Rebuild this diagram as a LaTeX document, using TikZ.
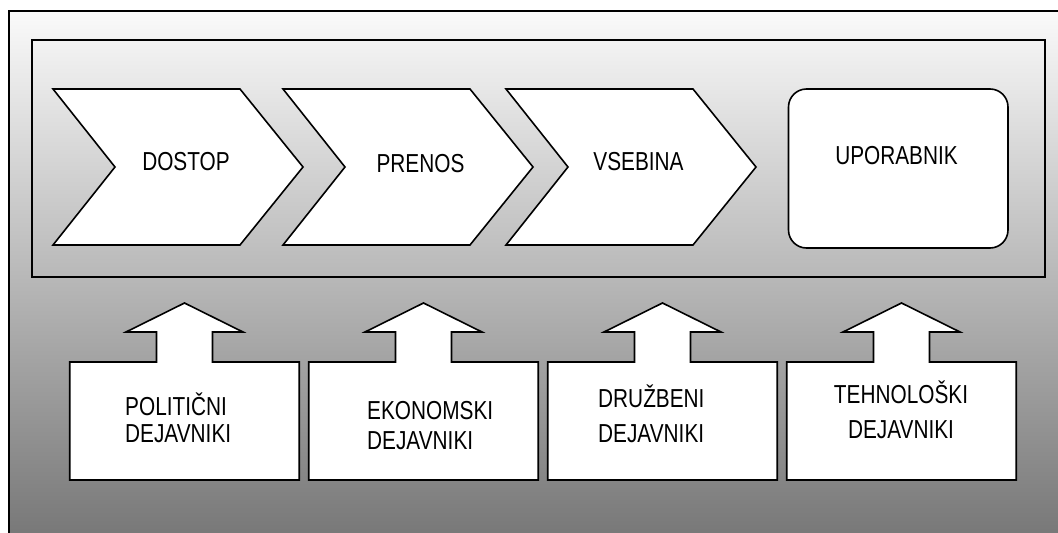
\documentclass[tikz,border=0pt]{standalone}
\usepackage{fontspec}
\setmainfont{Liberation Sans}[FakeStretch=0.8]
\begin{document}
\begin{tikzpicture}[x=1pt,y=-1pt,
  frame/.style={draw=black,line width=2pt},
  blockshape/.style={draw=black,fill=white,line width=1.6pt,line join=miter},
  lbl/.style={inner sep=0pt,font=\fontsize{26}{30}\selectfont},
  factor/.style={inner sep=0pt,align=left,anchor=west}]
\useasboundingbox (0,0) rectangle (1058,533);
% background gradient and frames
\shade[top color=black!2,bottom color=black!54] (9,11) rectangle (1070,545);
\draw[frame] (9,11) rectangle (1070,545);
\draw[frame] (32,40) rectangle (1045,277);
% chevrons
\foreach \L in {53,283,506}{
  \draw[blockshape,shift={(\L,0)}] (0,89) -- (187,89) -- (250,167) -- (187,245) -- (0,245) -- (62,167) -- cycle;
}
\draw[blockshape,rounded corners=18pt] (788.5,89) rectangle (1008,248);
% up-arrow callouts
\foreach \cx in {184.5,423.5,662.5,901.5}{
  \draw[blockshape,shift={(\cx,0)}] (-114.75,362) -- (-28,362) -- (-28,332) -- (-58.5,332) -- (0,303)
     -- (58.5,332) -- (28,332) -- (28,362) -- (114.75,362) -- (114.75,480) -- (-114.75,480) -- cycle;
}
% labels
\node[lbl] (dostop) at (186,162) {DOSTOP};
\node[lbl] (prenos) at (420.5,164) {PRENOS};
\node[lbl] (vsebina) at (638.5,162) {VSEBINA};
\node[lbl] (uporabnik) at (896.5,155.5) {UPORABNIK};
\node[factor,font=\fontsize{26}{26.5}\selectfont] (pol) at (125,418) {POLITIČNI\\DEJAVNIKI};
\node[factor,font=\fontsize{26}{29.5}\selectfont] (eko) at (367,425.3) {EKONOMSKI\\DEJAVNIKI};
\node[factor,font=\fontsize{26}{35.5}\selectfont] (dru) at (598,414) {DRUŽBENI\\DEJAVNIKI};
\node[inner sep=0pt,align=center,font=\fontsize{26}{35.5}\selectfont] (teh) at (901,410) {TEHNOLOŠKI\\DEJAVNIKI};
\end{tikzpicture}
\end{document}
